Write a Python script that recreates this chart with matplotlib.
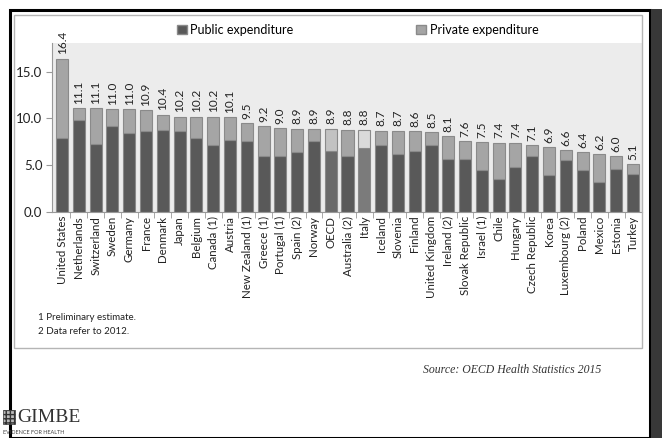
import matplotlib.pyplot as plt
from matplotlib.patches import Rectangle, Patch
import numpy as np

countries = ["United States", "Netherlands", "Switzerland", "Sweden", "Germany", "France",
             "Denmark", "Japan", "Belgium", "Canada (1)", "Austria", "New Zealand (1)",
             "Greece (1)", "Portugal (1)", "Spain (2)", "Norway", "OECD", "Australia (2)",
             "Italy", "Iceland", "Slovenia", "Finland", "United Kingdom", "Ireland (2)",
             "Slovak Republic", "Israel (1)", "Chile", "Hungary", "Czech Republic", "Korea",
             "Luxembourg (2)", "Poland", "Mexico", "Estonia", "Turkey"]
total = [16.4, 11.1, 11.1, 11.0, 11.0, 10.9, 10.4, 10.2, 10.2, 10.2, 10.1, 9.5,
         9.2, 9.0, 8.9, 8.9, 8.9, 8.8, 8.8, 8.7, 8.7, 8.6, 8.5, 8.1,
         7.6, 7.5, 7.4, 7.4, 7.1, 6.9, 6.6, 6.4, 6.2, 6.0, 5.1]
public = [7.9, 9.8, 7.3, 9.2, 8.4, 8.6, 8.8, 8.6, 7.9, 7.2, 7.7, 7.6,
          6.0, 6.0, 6.4, 7.6, 6.5, 6.0, 6.8, 7.1, 6.2, 6.5, 7.1, 5.6,
          5.7, 4.5, 3.5, 4.8, 6.0, 3.9, 5.5, 4.5, 3.2, 4.6, 4.0]
private = [round(t - p, 1) for t, p in zip(total, public)]
highlight = {"OECD": ("#6a6a6a", "#c2c2c2"), "Italy": ("#7b7b7b", "#dadada")}

fig = plt.figure(figsize=(6.65, 4.38), dpi=100)
plt.rcParams['font.family'] = ['Lato', 'DejaVu Sans']

# outer frame
fig.patches.append(Rectangle((10/665, 0), 640/665, 1 - 9.5/438, transform=fig.transFigure,
                             fill=False, edgecolor='black', linewidth=2.2))
fig.patches.append(Rectangle((651/665, 0), 11/665, 1 - 9/438, transform=fig.transFigure,
                             facecolor='#383838', edgecolor='none'))
# inner chart box
fig.patches.append(Rectangle((14/665, (438 - 348)/438), 628/665, (348 - 15)/438,
                             transform=fig.transFigure, fill=False, edgecolor='#b5b5b5',
                             linewidth=1.0))

ax = fig.add_axes([52/665, (438 - 211.7)/438, (641.7 - 52)/665, (211.7 - 43.3)/438])
ax.set_facecolor('#ececec')
x = np.arange(len(countries))
pub_c = [highlight.get(c, ("#595959", ""))[0] for c in countries]
pri_c = [highlight.get(c, ("", "#a5a5a5"))[1] for c in countries]
ax.bar(x, public, width=0.72, color=pub_c, edgecolor='#8a8a8a', linewidth=0.8)
ax.bar(x, private, bottom=public, width=0.72, color=pri_c, edgecolor='#8a8a8a', linewidth=0.8)
for xi, t in zip(x, total):
    ax.text(xi, t + 0.45, f"{t:.1f}", rotation=90, ha='center', va='bottom',
            fontsize=8.5, color='#222222')

ax.set_xlim(-0.6, len(countries) - 0.48)
ax.set_ylim(0, 18.05)
ax.set_yticks([0, 5, 10, 15])
ax.set_yticklabels(["0.0", "5.0", "10.0", "15.0"], fontsize=9.5, color='#222222')
ax.set_xticks(x)
ax.set_xticklabels(countries, rotation=90, fontsize=8.3, color='#222222')
ax.set_xticks(x[:-1] + 0.5, minor=True)
ax.tick_params(axis='x', which='major', length=0, pad=3)
ax.tick_params(axis='x', which='minor', length=4, color='#999999')
ax.tick_params(axis='y', length=4, color='#999999', pad=3)
for s in ['top', 'right']:
    ax.spines[s].set_visible(False)
ax.spines['left'].set_color('#999999')
ax.spines['bottom'].set_color('#999999')

handles = [Patch(facecolor='#595959', edgecolor='#8a8a8a', label='Public expenditure'),
           Patch(facecolor='#a5a5a5', edgecolor='#8a8a8a', label='Private expenditure')]
fig.legend(handles=handles, loc='center', bbox_to_anchor=(357.5/665, 1 - 30/438), ncol=2,
           frameon=False, fontsize=9, handlelength=0.8, handleheight=0.8,
           handletextpad=0.3, columnspacing=9.8)

fig.text(38/665, 1 - 317/438, "1 Preliminary estimate.", fontsize=7, va='center', color='#222222')
fig.text(38/665, 1 - 331/438, "2 Data refer to 2012.", fontsize=7, va='center', color='#222222')

fig.text(601/665, 1 - 370/438, "Source: OECD Health Statistics 2015", fontsize=8.5,
         style='italic', family='Liberation Serif', ha='right', va='center', color='#333333')

# GIMBE logo
fig.patches.append(Rectangle((3/665, 1 - 424/438), 12/665, 14/438, transform=fig.transFigure,
                             facecolor='#bbbbbb', edgecolor='#333333', hatch='++++', linewidth=0.5))
fig.text(17/665, 1 - 417/438, "GIMBE", fontsize=14, family='Liberation Serif', va='center',
         color='#333333')
fig.text(3/665, 1 - 433/438, "EVIDENCE FOR HEALTH", fontsize=4, va='center', color='#444444')

fig.savefig("out.png", dpi=100)
